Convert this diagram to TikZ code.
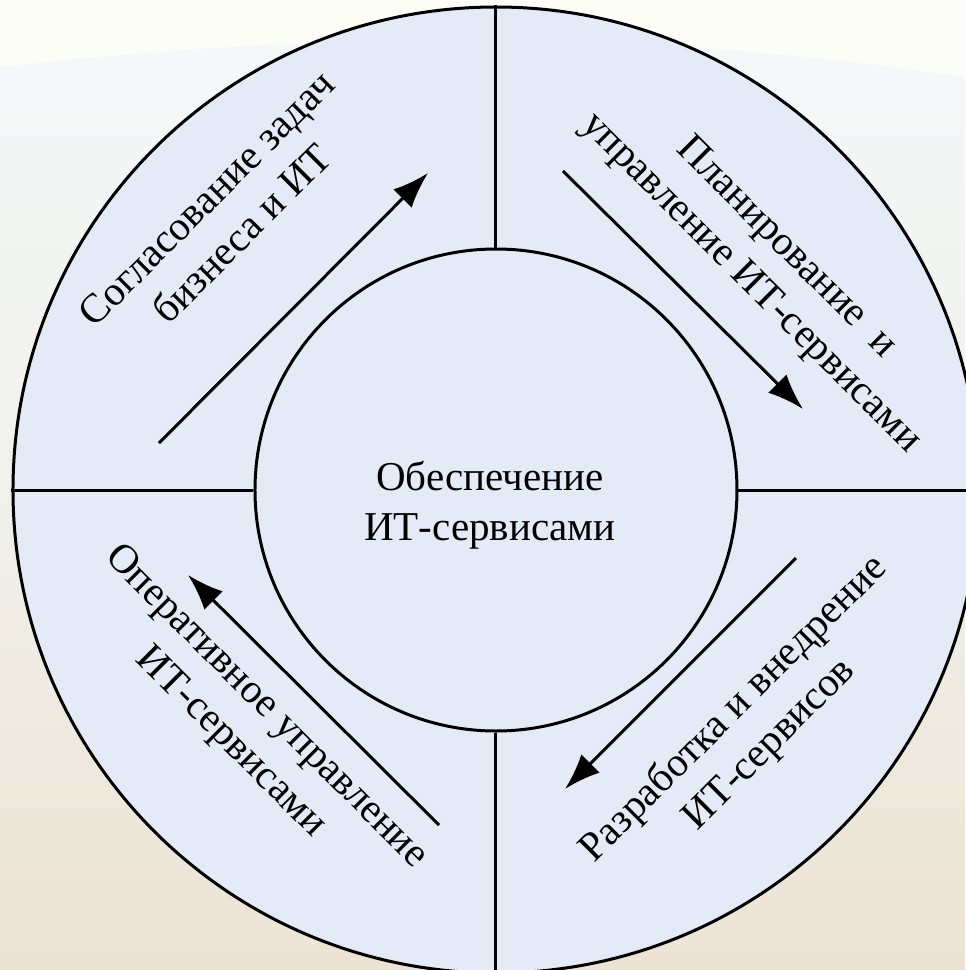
\documentclass[tikz,border=0pt]{standalone}
\usepackage{fontspec}
\setmainfont{Liberation Serif}
\usetikzlibrary{arrows.meta}

\definecolor{ringfill}{HTML}{E5EBF6}
\definecolor{bgtop}{HTML}{F4F9FA}
\definecolor{bgmid}{HTML}{F1F0EB}
\definecolor{bgbottom}{HTML}{ECE3D5}
\definecolor{bghigh}{HTML}{FDFDF8}

\tikzset{
  ring/.style={circle, draw, line width=1.5pt, fill=ringfill, inner sep=0pt},
  spoke/.style={line width=1.5pt},
  flow/.style={-{Latex[length=18pt,width=13pt]}, line width=1.5pt},
  sector/.style={font=\fontsize{20.5}{25}\selectfont, align=center},
}

\begin{document}
\begin{tikzpicture}[x=0.5pt,y=0.5pt]
	\def\R{483}
	\def\r{241}
	
	% Fondo
	\fill[top color=bgtop, bottom color=bgbottom, middle color=bgmid] (-496,-480) rectangle (469,490);
	\fill[bghigh] (-496,490) -- (-496,423) .. controls (-150,462) and (150,460) .. (469,413) -- (469,490) -- cycle;
	\useasboundingbox (-496,-480) rectangle (469,490);
	
	% Anillo y nucleo
	\node[ring, minimum size=483pt] (ring) at (0,0) {};
	\node[ring, minimum size=241pt] (core) at (0,0) {};
	\node[sector] (coretext) at (-6,-15) {Обеспечение\\ИТ-сервисами};
	
	% Divisiones
	\draw[spoke] (core.north) -- (ring.north);
	\draw[spoke] (core.south) -- (ring.south);
	\draw[spoke] (core.west) -- (ring.west);
	\draw[spoke] (core.east) -- (ring.east);
	
	% Flechas del ciclo
	\coordinate (tl0) at (-337,47);  \coordinate (tl1) at (-68,317);
	\coordinate (tr0) at (67,319);   \coordinate (tr1) at (307,81);
	\coordinate (br0) at (300,-68);  \coordinate (br1) at (69,-299);
	\coordinate (bl0) at (-57,-335); \coordinate (bl1) at (-308,-85);
	\draw[flow] (tl0) -- (tl1);
	\draw[flow] (tr0) -- (tr1);
	\draw[flow] (br0) -- (br1);
	\draw[flow] (bl0) -- (bl1);
	
	% Etiquetas de los sectores
	\node[sector, rotate=45] (align) at (-272,274) {Согласование задач\\бизнеса и ИТ};
	\node[sector, rotate=-45] (plan) at (272,224) {Планирование~ и\\управление ИТ-сервисами};
	\node[sector, rotate=45] (build) at (256,-237) {Разработка и внедрение\\ИТ-сервисов};
	\node[sector, rotate=-45] (operate) at (-248,-235) {Оперативное управление\\ИТ-сервисами};
\end{tikzpicture}
\end{document}
